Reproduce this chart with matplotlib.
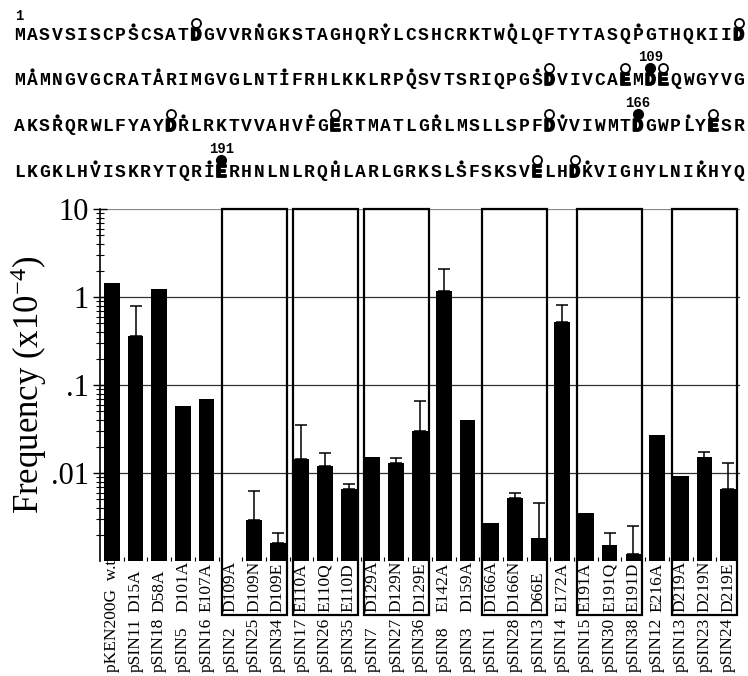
import numpy as np
import matplotlib
matplotlib.use('Agg')
import matplotlib.pyplot as plt
from matplotlib.patches import Rectangle
from matplotlib.lines import Line2D
from matplotlib.transforms import blended_transform_factory
from matplotlib.ticker import FixedLocator, NullFormatter
import matplotlib.patheffects as pe

plt.rcParams['mathtext.fontset'] = 'custom'
plt.rcParams['mathtext.rm'] = 'Liberation Serif'
plt.rcParams['mathtext.it'] = 'Liberation Serif:italic'
plt.rcParams['mathtext.bf'] = 'Liberation Serif:bold'

W, H = 748, 676
DPI = 100

# ---------------- sequence data ----------------
seq_lines = [
    "MASVSISCPSCSATDGVVRNGKSTAGHQRYLCSHCRKTWQLQFTYTASQPGTHQKIID",
    "MAMNGVGCRATARIMGVGLNTIFRHLKKLRPQSVTSRIQPGSDVIVCAEMDEQWGYVG",
    "AKSRQRWLFYAYDRLRKTVVAHVFGERTMATLGRLMSLLSPFDVVIWMTDGWPLYESR",
    "LKGKLHVISKRYTQRIERHNLNLRQHLARLGRKSLSFSKSVELHDKVIGHYLNIKHYQ",
]
bold_pos = [[14, 57], [42, 48, 50, 51], [12, 25, 42, 49, 55], [16, 41, 44]]
open_circles = [[14, 57], [42, 48, 51], [12, 25, 42, 55], [41, 44]]
filled_circles = [[], [50], [49], [16]]
dot_pos = [[9, 19, 29, 39, 49], [1, 11, 21, 31, 41],
           [3, 13, 23, 33, 43, 53], [6, 15, 25, 35, 45, 54]]
number_labels = ["1", "109", "166", "191"]
number_line = [0, 1, 2, 3]
number_pos = [0, 50, 49, 16]

# ---------------- chart data ----------------
mutations = ["w.t.", "D15A", "D58A", "D101A", "E107A", "D109A", "D109N", "D109E",
             "E110A", "E110Q", "E110D", "D129A", "D129N", "D129E", "E142A", "D159A",
             "D166A", "D166N", "D66E", "E172A", "E191A", "E191Q", "E191D", "E216A",
             "D219A", "D219N", "D219E"]
plasmids = ["pKEN200G", "pSIN11", "pSIN18", "pSIN5", "pSIN16", "pSIN2", "pSIN25", "pSIN34",
            "pSIN17", "pSIN26", "pSIN35", "pSIN7", "pSIN27", "pSIN36", "pSIN8", "pSIN3",
            "pSIN1", "pSIN28", "pSIN13", "pSIN14", "pSIN15", "pSIN30", "pSIN38", "pSIN12",
            "pSIN13", "pSIN23", "pSIN24"]
freq = [1.45, 0.36, 1.23, 0.057, 0.069, np.nan, 0.0029, 0.0016,
        0.0146, 0.012, 0.0066, 0.0151, 0.0129, 0.030, 1.18, 0.040,
        0.0027, 0.0052, 0.0018, 0.52, 0.0035, 0.0015, 0.0012, 0.027,
        0.0093, 0.0150, 0.0066]
err_top = [np.nan, 0.79, np.nan, np.nan, np.nan, np.nan, 0.0062, 0.0021,
           0.035, 0.017, 0.0075, np.nan, 0.015, 0.065, 2.08, np.nan,
           np.nan, 0.0059, 0.0046, 0.81, np.nan, 0.0021, 0.0025, np.nan,
           np.nan, 0.0173, 0.0130]
groups = [(5, 7), (8, 10), (11, 13), (16, 18), (20, 22), (24, 26)]
ytick_vals = [0.01, 0.1, 1, 10]
ytick_labels = [".01", ".1", "1", "10"]

SERIF = "Liberation Serif"
MONO = "Liberation Mono"

fig = plt.figure(figsize=(W / DPI, H / DPI), dpi=DPI)


def fx(px):
    return px / W


def fy(py):
    return 1 - py / H


# ---------------- sequence block ----------------
x0, pitch = 13.0, 12.62
line_y = [34, 79, 125, 171]
for li, s in enumerate(seq_lines):
    yc = line_y[li]
    for i, ch in enumerate(s):
        xc = x0 + (i + 0.5) * pitch
        if i in bold_pos[li]:
            fig.text(fx(xc), fy(yc + 6), ch, ha='center', va='baseline',
                     family=MONO, fontsize=13, weight='bold',
                     path_effects=[pe.withStroke(linewidth=1.3, foreground='black')])
        else:
            fig.text(fx(xc), fy(yc + 6), ch, ha='center', va='baseline',
                     family=MONO, fontsize=13, weight='bold')
    for i in dot_pos[li]:
        xc = x0 + (i + 0.5) * pitch
        fig.add_artist(Line2D([fx(xc)], [fy(yc - 9)], marker='o', markersize=2.0,
                              color='black', transform=fig.transFigure))
    for i in open_circles[li]:
        xc = x0 + (i + 0.5) * pitch
        fig.add_artist(Line2D([fx(xc)], [fy(yc - 11)], marker='o', markersize=6.5,
                              mfc='white', mec='black', mew=1.3,
                              transform=fig.transFigure))
    for i in filled_circles[li]:
        xc = x0 + (i + 0.5) * pitch
        fig.add_artist(Line2D([fx(xc)], [fy(yc - 11)], marker='o', markersize=7,
                              mfc='black', mec='black', transform=fig.transFigure))

for lab, li, i in zip(number_labels, number_line, number_pos):
    xc = x0 + (i + 0.5) * pitch
    yl = line_y[li] - 22 if li > 0 else line_y[li] - 18
    fig.text(fx(xc), fy(yl), lab, ha='center', va='center', family=MONO,
             fontsize=10, weight='bold')

# ---------------- chart ----------------
ax_left, ax_right, ax_top, ax_bot = 100, 740, 209, 561
ax = fig.add_axes([fx(ax_left), fy(ax_bot), (ax_right - ax_left) / W, (ax_bot - ax_top) / H])
ax.set_yscale('log')
x = np.arange(len(mutations))
freq_arr = np.array(freq, dtype=float)
err_arr = np.array(err_top, dtype=float)

for v in ytick_vals:
    ax.axhline(v, color='#888888' if v == 10 else '#333333', lw=0.9, zorder=1)

ax.bar(x, np.nan_to_num(freq_arr, nan=1e-5), width=0.66, color='black', bottom=1e-5, zorder=3)
mask = ~np.isnan(err_arr)
ax.errorbar(x[mask], freq_arr[mask], yerr=[np.zeros(mask.sum()), err_arr[mask] - freq_arr[mask]],
            fmt='none', ecolor='black', elinewidth=1.1, capsize=4, capthick=1.1, zorder=4)

ax.set_xlim(-0.5, len(mutations) - 0.5)
ax.set_ylim(1e-3, 10)
for sp in ['top', 'right', 'bottom']:
    ax.spines[sp].set_visible(False)
ax.spines['left'].set_linewidth(1.2)
ax.set_xticks([])
ax.xaxis.set_minor_locator(FixedLocator(np.arange(0.5, len(mutations) - 0.5, 1.0)))
ax.tick_params(axis='x', which='minor', direction='in', length=3, width=0.8)
ax.set_yticks(ytick_vals)
ax.set_yticklabels(ytick_labels, family=SERIF, fontsize=22)
minor = [m * 10.0 ** e for e in range(-3, 1) for m in range(2, 10)]
ax.yaxis.set_minor_locator(FixedLocator(minor))
ax.yaxis.set_minor_formatter(NullFormatter())
ax.tick_params(axis='y', which='major', direction='inout', length=10, width=1.0, pad=3)
ax.tick_params(axis='y', which='minor', direction='inout', length=6, width=0.8)

fig.text(fx(29), fy(385), "Frequency (x10$^{\\mathrm{-4}}$)", rotation=90,
         ha='center', va='center', family=SERIF, fontsize=25)

blend = blended_transform_factory(ax.transData, fig.transFigure)
box_top, box_bot = ax_top, 615
for g0, g1 in groups:
    rect = Rectangle((g0 - 0.5 + 0.13, fy(box_bot)), (g1 - g0 + 1) - 0.26,
                     fy(box_top) - fy(box_bot), transform=blend, fill=False,
                     lw=1.6, edgecolor='black', clip_on=False, zorder=5)
    fig.add_artist(rect)

for i, (m, p) in enumerate(zip(mutations, plasmids)):
    if i == 0:
        fig.text(i, fy(672), p + "  " + m, transform=blend, rotation=90, ha='center',
                 va='bottom', family=SERIF, fontsize=12.5)
    else:
        fig.text(i, fy(612), m, transform=blend, rotation=90, ha='center',
                 va='bottom', family=SERIF, fontsize=12.5)
        fig.text(i, fy(672), p, transform=blend, rotation=90, ha='center',
                 va='bottom', family=SERIF, fontsize=12.5)

fig.savefig("out.png", dpi=DPI)
